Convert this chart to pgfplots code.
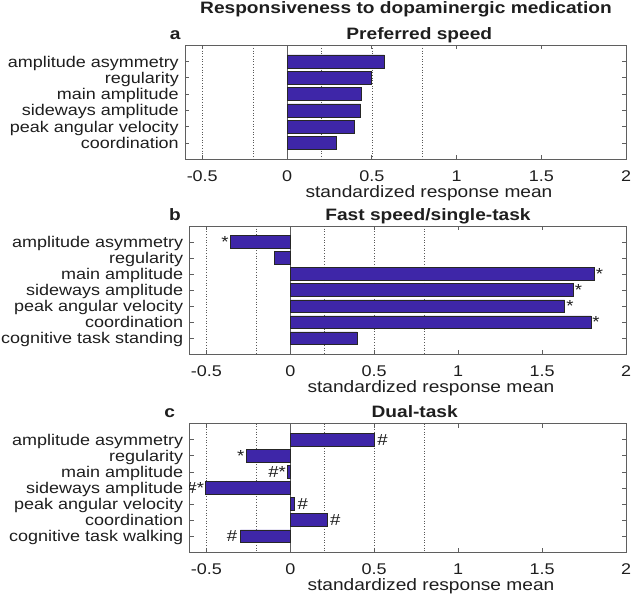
\documentclass[border=0pt]{standalone}
\usepackage{fontspec}
\setmainfont{Liberation Sans}[FakeStretch=1.16]
\usepackage{pgfplots}
\pgfplotsset{compat=1.18}
\definecolor{barc}{RGB}{62,38,168}
\definecolor{axc}{RGB}{95,95,95}
\definecolor{txt}{RGB}{30,30,30}

\pgfplotsset{
 panel/.style={
  scale only axis,
  anchor=north west,
  xmin=-0.6, xmax=2,
  ymin=0, y dir=reverse,
  xtick={-0.5,0,0.5,1,1.5,2},
  xticklabels={-0.5,0,0.5,1,1.5,2},
  tick align=inside,
  major tick length=4pt,
  tick style={axc, line width=0.6pt},
  axis line style={axc, line width=0.8pt},
  every tick label/.append style={text=txt},
  xticklabel style={font=\fontsize{15.5}{18}\selectfont, anchor=base, yshift=-22pt},
  yticklabel style={font=\fontsize{15.5}{18}\selectfont, anchor=base east, yshift=-5.6pt, xshift=-3pt},
  xlabel={standardized response mean},
  xlabel style={font=\fontsize{16.5}{19}\selectfont, text=txt, anchor=base, at={(axis description cs:0.553,0)}, yshift=-38pt},
 },
 dots/.style={black!65, line width=0.5pt, dash pattern=on 0.7pt off 2pt, forget plot},
 zline/.style={axc, line width=0.7pt, forget plot},
 bars/.style={xbar, bar width=0.8, fill=barc, draw=black!85, line width=0.5pt},
}
\tikzset{ann/.style={font=\fontsize{16}{18}\selectfont, text=txt, inner sep=1.5pt},
  ttl/.style={anchor=base, text=txt, font=\bfseries\fontsize{16.5}{19}\selectfont}}

\begin{document}
\begin{tikzpicture}
\useasboundingbox (0,0) rectangle (631pt,-599pt);

\node[ttl] at (406pt,-13.3pt) {Responsiveness to dopaminergic medication};

% ---------- panel a ----------
\node[ttl] at (175.3pt,-39.3pt) {a};
\node[ttl] at (419.3pt,-39.3pt) {Preferred speed};
\begin{axis}[panel, at={(185.3pt,-45.2pt)}, width=440.7pt, height=114.1pt,
  ymax=7, ytick={1,2,3,4,5,6},
  yticklabels={amplitude asymmetry, regularity, main amplitude, sideways amplitude, peak angular velocity, coordination}]
\pgfplotsinvokeforeach{-0.5,-0.2,0.2,0.5,0.8}{\addplot[dots] coordinates {(#1,0) (#1,7)};}
\addplot[zline] coordinates {(0,0) (0,7)};
\addplot[bars] coordinates {(0.575,1) (0.498,2) (0.437,3) (0.435,4) (0.397,5) (0.290,6)};
\end{axis}

% ---------- panel b ----------
\node[ttl] at (175pt,-220.5pt) {b};
\node[ttl] at (428pt,-220.5pt) {Fast speed/single-task};
\begin{axis}[panel, at={(189.6pt,-226pt)}, width=436.4pt, height=128.3pt,
  ymax=8, ytick={1,2,3,4,5,6,7},
  yticklabels={amplitude asymmetry, regularity, main amplitude, sideways amplitude, peak angular velocity, coordination, cognitive task standing}]
\pgfplotsinvokeforeach{-0.5,-0.2,0.2,0.5,0.8}{\addplot[dots] coordinates {(#1,0) (#1,8)};}
\addplot[zline] coordinates {(0,0) (0,8)};
\addplot[bars] coordinates {(-0.358,1) (-0.097,2) (1.810,3) (1.685,4) (1.635,5) (1.790,6) (0.396,7)};
\node[ann, anchor=east] at (axis cs:-0.358,1) {*};
\node[ann, anchor=west] at (axis cs:1.810,3) {*};
\node[ann, anchor=west] at (axis cs:1.685,4) {*};
\node[ann, anchor=west] at (axis cs:1.635,5) {*};
\node[ann, anchor=west] at (axis cs:1.790,6) {*};
\end{axis}

% ---------- panel c ----------
\node[ttl] at (169.7pt,-417.3pt) {c};
\node[ttl] at (414.7pt,-417.3pt) {Dual-task};
\begin{axis}[panel, at={(189.6pt,-423.5pt)}, width=436.4pt, height=128.8pt,
  ymax=8, ytick={1,2,3,4,5,6,7},
  yticklabels={amplitude asymmetry, regularity, main amplitude, sideways amplitude, peak angular velocity, coordination, cognitive task walking}]
\pgfplotsinvokeforeach{-0.5,-0.2,0.2,0.5,0.8}{\addplot[dots] coordinates {(#1,0) (#1,8)};}
\addplot[zline] coordinates {(0,0) (0,8)};
\addplot[bars] coordinates {(0.500,1) (-0.263,2) (-0.016,3) (-0.504,4) (0.024,5) (0.218,6) (-0.298,7)};
\node[ann, anchor=west, inner sep=3pt] at (axis cs:0.500,1) {\#};
\node[ann, anchor=east] at (axis cs:-0.263,2) {*};
\node[ann, anchor=east] at (axis cs:-0.016,3) {\#*};
\node[ann, anchor=east] at (axis cs:-0.504,4) {\#*};
\node[ann, anchor=west, inner sep=3pt] at (axis cs:0.024,5) {\#};
\node[ann, anchor=west, inner sep=3pt] at (axis cs:0.218,6) {\#};
\node[ann, anchor=east, inner sep=3pt] at (axis cs:-0.298,7) {\#};
\end{axis}
\end{tikzpicture}
\end{document}
